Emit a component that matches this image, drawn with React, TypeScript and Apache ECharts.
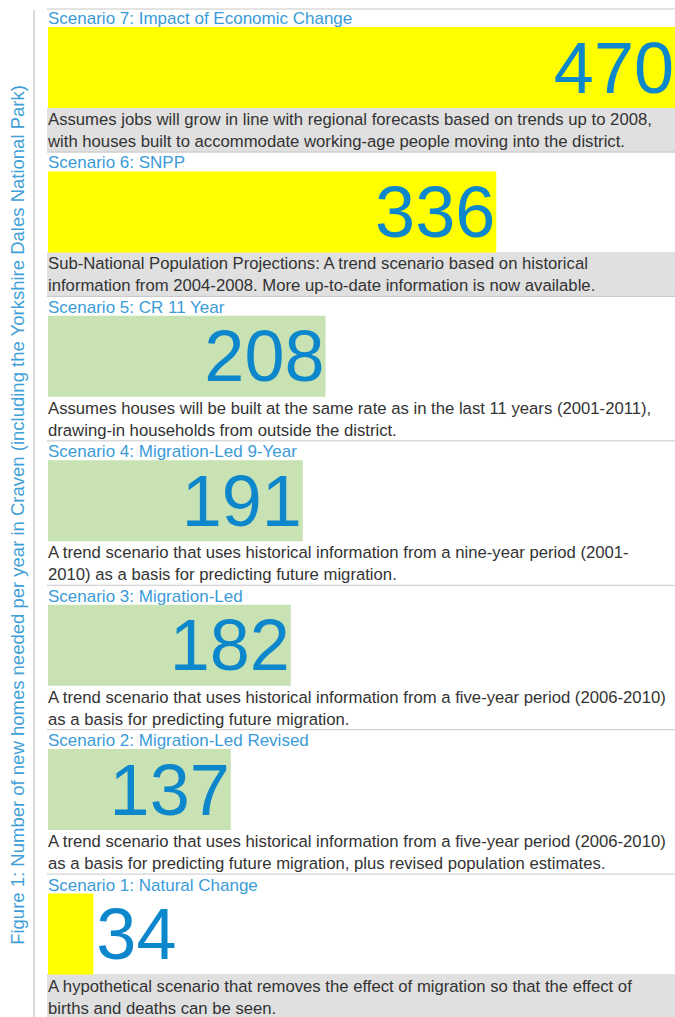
import React, { useEffect, useRef } from "react";
import * as echarts from "echarts";

const SCENARIOS = [
  "Scenario 7: Impact of Economic Change",
  "Scenario 6: SNPP",
  "Scenario 5: CR 11 Year",
  "Scenario 4: Migration-Led 9-Year",
  "Scenario 3: Migration-Led",
  "Scenario 2: Migration-Led Revised",
  "Scenario 1: Natural Change",
];
const HOMES_PER_YEAR = [470, 336, 208, 191, 182, 137, 34];
const DESCRIPTIONS = [
  ["Assumes jobs will grow in line with regional forecasts based on trends up to 2008,", "with houses built to accommodate working-age people moving into the district."],
  ["Sub-National Population Projections: A trend scenario based on historical", "information from 2004-2008. More up-to-date information is now available."],
  ["Assumes houses will be built at the same rate as in the last 11 years (2001-2011),", "drawing-in households from outside the district."],
  ["A trend scenario that uses historical information from a nine-year period (2001-", "2010) as a basis for predicting future migration."],
  ["A trend scenario that uses historical information from a five-year period (2006-2010)", "as a basis for predicting future migration."],
  ["A trend scenario that uses historical information from a five-year period (2006-2010)", "as a basis for predicting future migration, plus revised population estimates."],
  ["A hypothetical scenario that removes the effect of migration so that the effect of", "births and deaths can be seen."],
];
const HIGHLIGHTED = [true, true, false, false, false, false, true];
const FIGURE_TITLE =
  "Figure 1: Number of new homes needed per year in Craven (including the Yorkshire Dales National Park)";

const YELLOW = "#ffff00";
const GREEN = "#c8e2b3";
const FONT = '"Liberation Sans", Arial, sans-serif';

export default function App() {
  const ref = useRef<HTMLDivElement>(null);
  useEffect(() => {
    const chart = echarts.init(ref.current!, null, { renderer: "svg" });
    chart.setOption({
      animation: false,
      grid: { left: 48, right: 0, top: 67.5, bottom: 83 },
      xAxis: { type: "value", min: 0, max: 470, show: false },
      yAxis: {
        type: "category",
        data: SCENARIOS,
        inverse: true,
        boundaryGap: false,
        show: false,
      },
      series: [
        {
          type: "bar",
          clip: false,
          barWidth: 81,
          data: HOMES_PER_YEAR.map((v, i) => ({
            value: v,
            itemStyle: { color: HIGHLIGHTED[i] ? YELLOW : GREEN },
            label: v < 100 ? { position: "right", distance: 3 } : undefined,
          })),
          label: {
            show: true,
            position: "insideRight",
            distance: 1,
            formatter: "{c}",
            fontSize: 72,
            fontFamily: FONT,
            color: "#0d87cc",
          },
        },
      ],
    });

    const graphics: any[] = [];
    graphics.push({
      type: "line",
      shape: { x1: 34, y1: 10, x2: 34, y2: 1017 },
      style: { stroke: "#b4b4b4", lineWidth: 1 },
    });
    graphics.push({
      type: "text",
      x: 17,
      y: 515,
      rotation: Math.PI / 2,
      style: {
        text: FIGURE_TITLE,
        font: `18.5px ${FONT}`,
        fill: "#3f9fd6",
        textAlign: "center",
        textVerticalAlign: "middle",
      },
    });
    SCENARIOS.forEach((name, i) => {
      const c = chart.convertToPixel({ yAxisIndex: 0 }, name) as number;
      if (i === 0) {
        graphics.push({
          type: "line",
          shape: { x1: 47, y1: c - 58.5, x2: 675, y2: c - 58.5 },
          style: { stroke: "#c8c8c8", lineWidth: 1 },
        });
      }
      if (HIGHLIGHTED[i]) {
        graphics.push({
          type: "rect",
          shape: { x: 47, y: c + 40, width: 628, height: 45 },
          style: { fill: "#e0e0e0" },
          z: -1,
        });
      }
      if (i < SCENARIOS.length - 1) {
        graphics.push({
          type: "line",
          shape: { x1: 47, y1: c + 84.5, x2: 675, y2: c + 84.5 },
          style: { stroke: "#c8c8c8", lineWidth: 1 },
        });
      }
      graphics.push({
        type: "text",
        x: 48,
        y: c - 49,
        style: {
          text: name,
          font: `17px ${FONT}`,
          fill: "#3b9bd8",
          textAlign: "left",
          textVerticalAlign: "middle",
        },
      });
      DESCRIPTIONS[i].forEach((line, j) => {
        graphics.push({
          type: "text",
          x: 48,
          y: c + 52 + j * 22,
          style: {
            text: line,
            font: `16.7px ${FONT}`,
            fill: "#333333",
            textAlign: "left",
            textVerticalAlign: "middle",
          },
        });
      });
    });
    chart.setOption({ graphic: graphics });
    return () => chart.dispose();
  }, []);
  return (
    <div
      ref={ref}
      style={{ position: "fixed", left: 0, top: 0, width: 675, height: 1017, background: "#fff" }}
    />
  );
}
